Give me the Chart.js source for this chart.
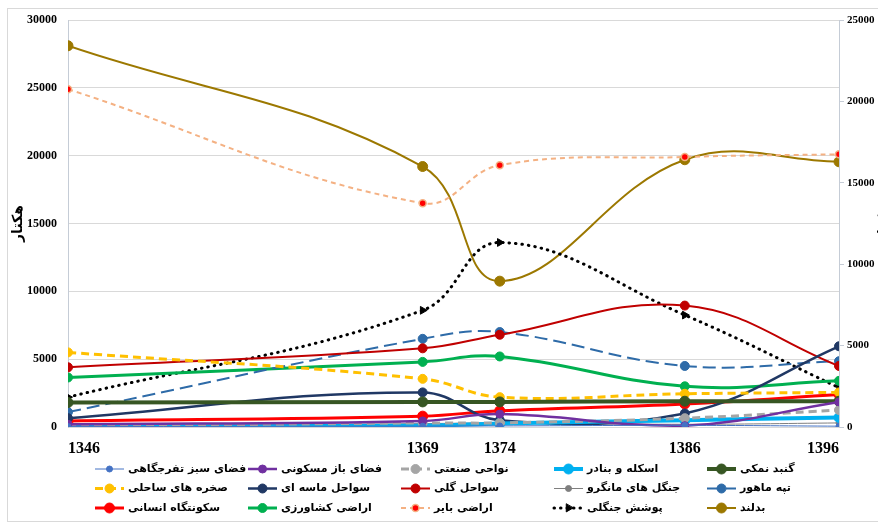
<!doctype html>
<html lang="fa">
<head>
<meta charset="utf-8">
<title>کاربری اراضی</title>
<style>
  html, body { margin: 0; padding: 0; background: #fff; }
  canvas { display: block; }
</style>
</head>
<body>
<canvas id="landChart" width="878" height="526"></canvas>
<script src="https://cdn.jsdelivr.net/npm/chart.js"></script>
<script>
// years on the x axis
const years = [1346, 1369, 1374, 1386, 1396];

// hectares per class
const greenSpace   = [30, 60, 80, 120, 60];          // فضای سبز تفرجگاهی
const openResident = [200, 450, 950, 100, 1850];     // فضای باز مسکونی
const industrial   = [50, 300, 300, 650, 1250];      // نواحی صنعتی
const ports        = [50, 100, 250, 500, 700];       // اسکله و بنادر
const saltDome     = [1800, 1850, 1850, 1900, 1900]; // گنبد نمکی
const rockyCoast   = [5500, 3550, 2200, 2450, 2550]; // صخره های ساحلی
const sandyCoast   = [650, 2550, 500, 1000, 5950];   // سواحل ماسه ای
const muddyCoast   = [4400, 5800, 6800, 8950, 4500]; // سواحل گلی
const mangrove     = [50, 250, 300, 200, 300];       // جنگل های مانگرو
const hills        = [1100, 6500, 7000, 4500, 4850]; // تپه ماهور
const settlement   = [450, 800, 1200, 1700, 2400];   // سکونتگاه انسانی
const farmland     = [3650, 4800, 5200, 3000, 3400]; // اراضی کشاورزی
const barren       = [24900, 16500, 19300, 19900, 20100]; // اراضی بایر
const forest       = [2200, 8600, 13600, 8250, 2900];     // پوشش جنگلی
const badland      = [28100, 19200, 10750, 19700, 19550]; // بدلند

const labelFont = 'Liberation Serif';
const faFont = 'DejaVu Sans';

function series(label, values, color, width, dash, radius, extra) {
  return Object.assign({
    label: label,
    data: years.map((yr, i) => ({ x: yr, y: values[i] })),
    borderColor: color,
    backgroundColor: color,
    borderWidth: width,
    borderDash: dash,
    pointRadius: radius,
    pointBackgroundColor: color,
    pointBorderColor: color,
    pointBorderWidth: 1,
    pointStyle: 'circle',
    tension: 0.4,
    yAxisID: 'y'
  }, extra || {});
}

const datasets = [
  series('فضای سبز تفرجگاهی', greenSpace, '#4472C4', 1, [], 3),
  series('فضای باز مسکونی', openResident, '#7030A0', 2.5, [], 4),
  series('نواحی صنعتی', industrial, '#A5A5A5', 3, [8, 5], 4.5),
  series('اسکله و بنادر', ports, '#00B0F0', 4, [], 5),
  series('گنبد نمکی', saltDome, '#375623', 4, [], 5),
  series('صخره های ساحلی', rockyCoast, '#FFC000', 3, [8, 5], 4.5),
  series('سواحل ماسه ای', sandyCoast, '#203864', 2.5, [], 4.5),
  series('سواحل گلی', muddyCoast, '#C00000', 2, [], 4.5),
  series('جنگل های مانگرو', mangrove, '#7F7F7F', 1, [], 3),
  series('تپه ماهور', hills, '#2E6BA8', 2, [13, 6], 4.5),
  series('سکونتگاه انسانی', settlement, '#FF0000', 3, [], 5),
  series('اراضی کشاورزی', farmland, '#00B050', 3, [], 4.5),
  series('اراضی بایر', barren, '#F4B183', 2, [5, 4], 3.5,
    { pointBackgroundColor: '#FF0000', pointBorderColor: '#F4B183', pointBorderWidth: 1.5 }),
  series('پوشش جنگلی', forest, '#000000', 3, [0.5, 6], 4.5,
    { pointStyle: 'triangle', pointRotation: 90, borderCapStyle: 'round' }),
  series('بدلند', badland, '#9C7800', 2, [], 5)
];

// frame, axis titles and the 5-column legend
const extras = {
  id: 'extras',
  beforeDraw(chart) {
    const ctx = chart.ctx;
    ctx.save();
    ctx.strokeStyle = '#D9D9D9';
    ctx.lineWidth = 1;
    ctx.strokeRect(7.5, 8.5, 900, 513);
    ctx.restore();
  },
  afterDraw(chart) {
    const ctx = chart.ctx;
    const area = chart.chartArea;
    ctx.save();
    ctx.fillStyle = '#000';
    ctx.font = 'bold 14px ' + faFont;
    ctx.textAlign = 'center';
    ctx.textBaseline = 'middle';
    const midY = (area.top + area.bottom) / 2;
    [18, 884].forEach(x => {
      ctx.save();
      ctx.translate(x, midY);
      ctx.rotate(-Math.PI / 2);
      ctx.fillText('هکتار', 0, 0);
      ctx.restore();
    });

    // legend
    const colX = 95, colW = 153, rowY = 469, rowH = 19.5, lineLen = 29;
    chart.data.datasets.forEach((ds, i) => {
      const col = i % 5, row = Math.floor(i / 5);
      const x0 = colX + col * colW;
      const y = rowY + row * rowH;
      ctx.save();
      ctx.strokeStyle = ds.borderColor;
      ctx.lineWidth = ds.borderWidth;
      ctx.lineCap = ds.borderCapStyle || 'butt';
      ctx.setLineDash(ds.borderDash);
      ctx.beginPath();
      ctx.moveTo(x0, y);
      ctx.lineTo(x0 + lineLen, y);
      ctx.stroke();
      ctx.setLineDash([]);
      ctx.fillStyle = ds.pointBackgroundColor;
      ctx.strokeStyle = ds.pointBorderColor;
      ctx.lineWidth = ds.pointBorderWidth;
      Chart.helpers.drawPoint(ctx, {
        pointStyle: ds.pointStyle,
        rotation: ds.pointRotation || 0,
        radius: ds.pointRadius,
        borderWidth: ds.pointBorderWidth
      }, x0 + lineLen / 2, y);
      ctx.fillStyle = '#000';
      ctx.font = 'bold 11px ' + faFont;
      ctx.textAlign = 'left';
      ctx.textBaseline = 'middle';
      ctx.direction = 'rtl';
      ctx.fillText(ds.label, x0 + lineLen + 4, y);
      ctx.restore();
    });
    ctx.restore();
  }
};

const tickFont = { family: labelFont, weight: 'bold', size: 12 };
const axisColor = '#C5CCD6';

new Chart(document.getElementById('landChart'), {
  type: 'line',
  data: { datasets: datasets },
  options: {
    responsive: false,
    animation: false,
    layout: { padding: { top: 20, bottom: 73, left: 0, right: 0 } },
    plugins: { legend: { display: false }, tooltip: { enabled: false } },
    scales: {
      x: {
        type: 'linear',
        min: 1346,
        max: 1396,
        afterBuildTicks: scale => { scale.ticks = years.map(v => ({ value: v })); },
        afterFit: scale => { scale.height = 26; },
        grid: { display: false },
        border: { display: false },
        ticks: {
          align: 'inner',
          padding: 4,
          color: '#000',
          font: { family: labelFont, weight: 'bold', size: 16 },
          callback: v => String(v)
        }
      },
      y: {
        position: 'left',
        min: 0,
        max: 30000,
        afterFit: scale => { scale.width = 68; },
        grid: { color: '#D9D9D9', drawTicks: false },
        border: { color: axisColor },
        ticks: { stepSize: 5000, padding: 11, color: '#000', font: tickFont, callback: v => String(v) }
      },
      y2: {
        position: 'right',
        min: 0,
        max: 25000,
        afterFit: scale => { scale.width = 39; },
        grid: { drawOnChartArea: false, tickLength: 5, color: axisColor },
        border: { color: axisColor },
        ticks: { stepSize: 5000, padding: 3, color: '#000', font: { family: labelFont, weight: 'bold', size: 11 }, callback: v => String(v) }
      }
    }
  },
  plugins: [extras]
});
</script>
</body>
</html>
